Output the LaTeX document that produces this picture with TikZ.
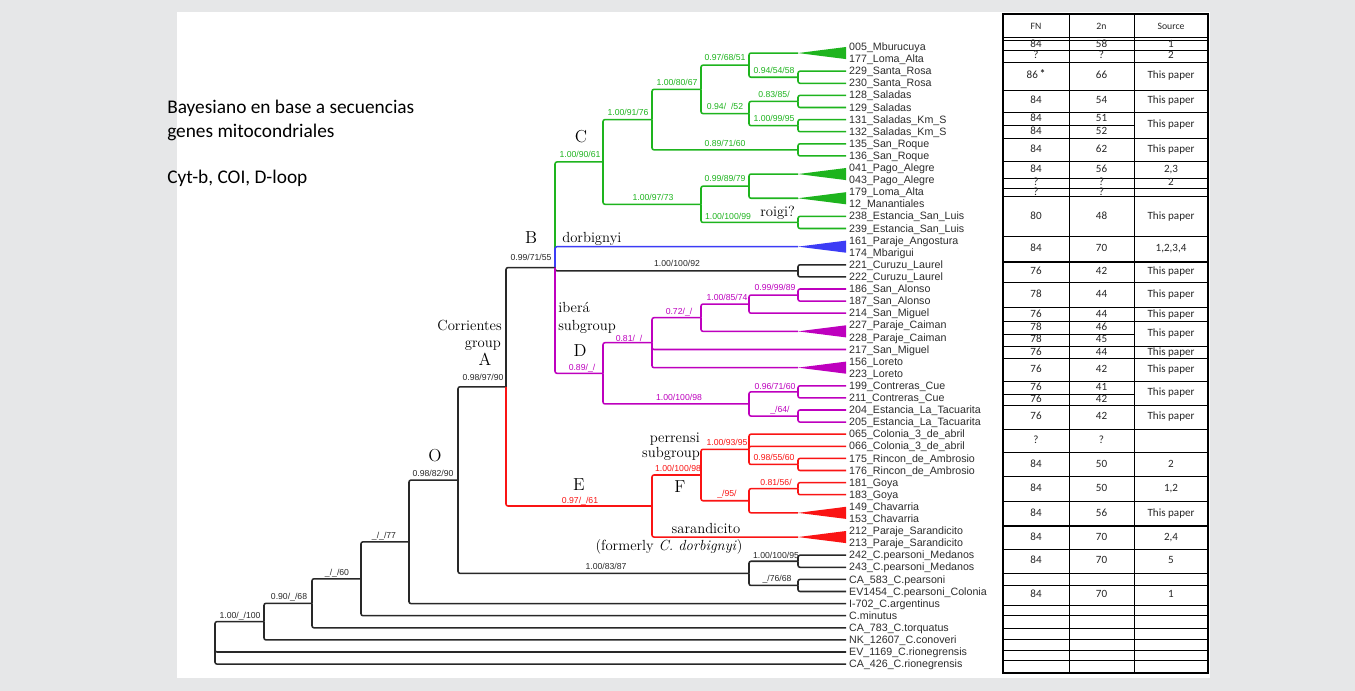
\documentclass[tikz,border=0pt]{standalone}
\usepackage{fontspec}
\usepackage{xcolor}
\usepackage{tikz}
\newfontfamily\arialf{Liberation Sans}
\newfontfamily\calib{Carlito}
\definecolor{bgc}{RGB}{230,231,232}
\definecolor{grn}{RGB}{30,180,30}
\definecolor{blu}{RGB}{60,60,245}
\definecolor{pur}{RGB}{190,0,190}
\definecolor{rd}{RGB}{250,20,20}
\definecolor{dk}{RGB}{40,40,40}
\definecolor{leafc}{RGB}{45,45,45}

\begin{document}
\begin{tikzpicture}
  [x=0.75pt,y=-0.75pt,
   br/.style={line width=1.15pt,rounded corners=1.5pt},
   leaf/.style={anchor=west,inner xsep=2.2pt,inner ysep=0pt,text height=6.4pt,text depth=1pt,font=\arialf\fontsize{8}{9}\selectfont,text=leafc},
   sup/.style={inner sep=0pt,text height=4.7pt,text depth=0pt,font=\arialf\fontsize{6.5}{7}\selectfont},
   clade/.style={inner sep=0pt,font=\fontsize{13}{15}\selectfont},
   grp/.style={inner sep=0pt,font=\fontsize{11}{13}\selectfont},
   cell/.style={inner sep=0pt,text height=5.6pt,text depth=1.7pt,text=black!85,font=\calib\fontsize{8.3}{9}\selectfont},
   hcell/.style={cell,font=\calib\fontsize{7.3}{8}\selectfont},
   title/.style={anchor=base west,inner sep=0pt,font=\calib\fontsize{14.5}{17}\selectfont}]

  \path[use as bounding box,fill=bgc] (0,0) rectangle (1355,691);
  \fill[white] (177,12) rectangle (1210,678);

  \node[title] (ttl1) at (167,113.5) {Bayesiano en base a secuencias};
  \node[title] (ttl2) at (167,137.5) {genes mitocondriales};
  \node[title] (genes) at (167,183.5) {Cyt-b, COI, D-loop};

  % tips
  \foreach \lbl [count=\i] in {005\_Mburucuya,177\_Loma\_Alta,229\_Santa\_Rosa,230\_Santa\_Rosa,
      128\_Saladas,129\_Saladas,131\_Saladas\_Km\_S,132\_Saladas\_Km\_S,135\_San\_Roque,136\_San\_Roque,
      041\_Pago\_Alegre,043\_Pago\_Alegre,179\_Loma\_Alta,12\_Manantiales,238\_Estancia\_San\_Luis,
      239\_Estancia\_San\_Luis,161\_Paraje\_Angostura,174\_Mbarigui,221\_Curuzu\_Laurel,222\_Curuzu\_Laurel,
      186\_San\_Alonso,187\_San\_Alonso,214\_San\_Miguel,227\_Paraje\_Caiman,228\_Paraje\_Caiman,
      217\_San\_Miguel,156\_Loreto,223\_Loreto,199\_Contreras\_Cue,211\_Contreras\_Cue,
      204\_Estancia\_La\_Tacuarita,205\_Estancia\_La\_Tacuarita,065\_Colonia\_3\_de\_abril,066\_Colonia\_3\_de\_abril,
      175\_Rincon\_de\_Ambrosio,176\_Rincon\_de\_Ambrosio,181\_Goya,183\_Goya,149\_Chavarria,153\_Chavarria,
      212\_Paraje\_Sarandicito,213\_Paraje\_Sarandicito,242\_C.pearsoni\_Medanos,243\_C.pearsoni\_Medanos,
      CA\_583\_C.pearsoni,EV1454\_C.pearsoni\_Colonia,I-702\_C.argentinus,C.minutus,CA\_783\_C.torquatus,
      NK\_12607\_C.conoveri,EV\_1169\_C.rionegrensis,CA\_426\_C.rionegrensis}
    \node[leaf] (l\i) at (846,{47+(\i-1)*12.1}) {\lbl};

  % internal nodes
  \coordinate (tMbu) at (798,53.05);
  \coordinate (nSRosa) at (798,77.25);
  \coordinate (n097) at (749,65.15);
  \coordinate (nSal) at (798,101.45);
  \coordinate (nSalKm) at (798,125.65);
  \coordinate (n094) at (749,113.55);
  \coordinate (n100a) at (701,89.35);
  \coordinate (nSRoq) at (798,149.85);
  \coordinate (n100b) at (652,119.6);
  \coordinate (tPago) at (798,174.05);
  \coordinate (tLoma) at (798,198.25);
  \coordinate (n099) at (749,186.15);
  \coordinate (nSLuis) at (798,222.45);
  \coordinate (n100c) at (701,204.3);
  \coordinate (C) at (603,161.95);
  \coordinate (tDorb) at (798,246.65);
  \coordinate (nCuru) at (798,270.85);
  \coordinate (nSAl) at (798,295.05);
  \coordinate (n100d) at (749,304.1);
  \coordinate (tCaim) at (798,331.35);
  \coordinate (n072) at (701,317.7);
  \coordinate (tLore) at (798,367.65);
  \coordinate (n081) at (652,342.7);
  \coordinate (nContr) at (798,391.85);
  \coordinate (nTacu) at (798,416.05);
  \coordinate (n100e) at (749,403.95);
  \coordinate (D) at (603,373.3);
  \coordinate (B) at (555,267.6);
  \coordinate (nRinc) at (798,464.45);
  \coordinate (n100f) at (749,449.3);
  \coordinate (nGoya) at (798,488.65);
  \coordinate (tChav) at (798,512.85);
  \coordinate (n95) at (749,500.75);
  \coordinate (F) at (701,475);
  \coordinate (tSara) at (798,537.05);
  \coordinate (E) at (652,506);
  \coordinate (A) at (506,386.8);
  \coordinate (nMed) at (798,561.25);
  \coordinate (nCApe) at (798,585.45);
  \coordinate (nPears) at (749,573.35);
  \coordinate (O) at (458,480.1);
  \coordinate (n77) at (409,541.85);
  \coordinate (n60) at (361,578.8);
  \coordinate (n68) at (312,603.3);
  \coordinate (n100g) at (264,621.6);
  \coordinate (root) at (215,642.85);

  % branches
  \foreach \a/\b in {B/C,C/n100b,C/n100c,n100b/n100a,n100b/nSRoq,n100a/n097,n100a/n094,n097/tMbu,
      n097/nSRosa,nSRosa/l3.west,nSRosa/l4.west,n094/nSal,n094/nSalKm,nSal/l5.west,nSal/l6.west,
      nSalKm/l7.west,nSalKm/l8.west,nSRoq/l9.west,nSRoq/l10.west,n100c/n099,n100c/nSLuis,
      n099/tPago,n099/tLoma,nSLuis/l15.west,nSLuis/l16.west}
    \draw[br,grn] (\a) |- (\b);
  \draw[br,blu] (B) |- (tDorb);
  \foreach \a/\b in {A/B,B/nCuru,nCuru/l19.west,nCuru/l20.west,O/A,O/nPears,nPears/nMed,nPears/nCApe,
      nMed/l43.west,nMed/l44.west,nCApe/l45.west,nCApe/l46.west,n77/O,n77/l47.west,n60/n77,
      n60/l48.west,n68/n60,n68/l49.west,n100g/n68,n100g/l50.west,root/n100g,root/l51.west,root/l52.west}
    \draw[br,dk] (\a) |- (\b);
  \foreach \a/\b in {B/D,D/n081,D/n100e,n081/n072,n081/l26.west,n081/tLore,n072/n100d,n072/tCaim,
      n100d/nSAl,n100d/l23.west,nSAl/l21.west,nSAl/l22.west,n100e/nContr,n100e/nTacu,
      nContr/l29.west,nContr/l30.west,nTacu/l31.west,nTacu/l32.west}
    \draw[br,pur] (\a) |- (\b);
  \foreach \a/\b in {A/E,E/F,E/tSara,F/n100f,F/n95,n100f/l33.west,n100f/l34.west,n100f/nRinc,
      nRinc/l35.west,nRinc/l36.west,n95/nGoya,n95/tChav,nGoya/l37.west,nGoya/l38.west}
    \draw[br,rd] (\a) |- (\b);

  % collapsed clades
  \foreach \t/\u/\v/\c in {tMbu/1/2/grn,tPago/11/12/grn,tLoma/13/14/grn,tDorb/17/18/blu,
      tCaim/24/25/pur,tLore/27/28/pur,tChav/39/40/rd,tSara/41/42/rd}
    \fill[\c] (\t) -- (l\u.west) -- (l\v.west) -- cycle;

  % support values
  \foreach \px/\py/\txt [count=\i] in {580/154/{1.00/90/61},628/112/{1.00/91/76},677/82/{1.00/80/67},
      725/57/{0.97/68/51},774/70/{0.94/54/58},725/106/{0.94/\ \ /52},774/94/{0.83/85/},
      774/118/{1.00/99/95},725/143/{0.89/71/60},653/197/{1.00/97/73},725/178/{0.99/89/79},
      728/216/{1.00/100/99}}
    \node[sup,text=grn] (sg\i) at (\px,\py) {\txt};
  \foreach \px/\py/\txt [count=\i] in {531/257/{0.99/71/55},677/263/{1.00/100/92},483/377/{0.98/97/90},
      433/473/{0.98/82/90},606/566/{1.00/83/87},776/555/{1.00/100/95},777/578/{\_/76/68},
      384/535/{\_/\_/77},337/572/{\_/\_/60},289/596/{0.90/\_/68},240/615/{1.00/\_/100}}
    \node[sup,text=dk] (sk\i) at (\px,\py) {\txt};
  \foreach \px/\py/\txt [count=\i] in {582/367/{0.89/\_/},629/338/{0.81/\_/},679/311/{0.72/\_/},
      727/297/{1.00/85/74},775/287/{0.99/99/89},679/397/{1.00/100/98},775/386/{0.96/71/60},
      780/409/{\_/64/}}
    \node[sup,text=pur] (sp\i) at (\px,\py) {\txt};
  \foreach \px/\py/\txt [count=\i] in {580/500/{0.97/\_/61},678/468/{1.00/100/98},727/442/{1.00/93/95},
      774/457/{0.98/55/60},776/482/{0.81/56/},727/493/{\_/95/}}
    \node[sup,text=rd] (sr\i) at (\px,\py) {\txt};

  % clade names
  \node[clade] (labC) at (581,137) {C};
  \node[clade] (labB) at (531,238) {B};
  \node[clade] (labD) at (580,351) {D};
  \node[clade] (labA) at (485,359) {A};
  \node[clade] (labO) at (435,456) {O};
  \node[clade] (labE) at (579,485) {E};
  \node[clade] (labF) at (680,487) {F};
  \node[grp,anchor=base west] (dorb) at (562,243) {dorbignyi};
  \node[grp,anchor=base west] (roigi) at (760,216.5) {roigi?};
  \node[grp,anchor=base west] (ibera) at (558,312.5) {iberá};
  \node[grp,anchor=base west] (ibsub) at (558,330) {subgroup};
  \node[grp,anchor=base east] (corr) at (502,330) {Corrientes};
  \node[grp,anchor=base east] (corrg) at (501,348) {group};
  \node[grp,anchor=base east] (perr) at (700,442) {perrensi};
  \node[grp,anchor=base east] (persub) at (700,457) {subgroup};
  \node[grp,anchor=base] (sara) at (706,533.5) {sarandicito};
  \node[grp,anchor=base] (form) at (669,550) {(formerly \textit{C. dorbignyi})};

  % karyotype table
  \draw[line width=1.3pt] (1003,14) rectangle (1208,672.7);
  \draw[line width=0.6pt] (1069,14) -- (1069,672.7) (1134,14) -- (1134,672.7);
  \foreach \yy in {37.8,40.2,50.3,62.5,90,112.7,138,161.7,178.3,188.3,196.7,282.7,307.3,321.7,346.7,
      358.3,381.7,405,429,452.7,476.7,501.7,573.3,585,605,615.7,628.3,639.3,650,660.7}
    \draw[line width=0.6pt] (1003,\yy) -- (1208,\yy);
  \foreach \yy in {236.7,262,526,549.3}
    \draw[line width=1.1pt] (1003,\yy) -- (1208,\yy);
  \foreach \yy in {125,334,394}
    \draw[line width=0.6pt] (1003,\yy) -- (1134,\yy);

  \node[hcell] (hFN) at (1036,26.5) {FN};
  \node[hcell] (h2n) at (1101.5,26.5) {2n};
  \node[hcell] (hSrc) at (1171,26.5) {Source};
  \foreach \yy/\fn/\tn [count=\i] in {44.7/84/58,56.4/?/?,76.2/{86\,\raisebox{1pt}{\bfseries *}}/66,101.3/84/54,
      118.8/84/51,131.5/84/52,149.8/84/62,170/84/56,183.3/?/?,192.5/?/?,216.7/80/48,249.3/84/70,
      272.3/76/42,295/78/44,314.5/76/44,327.8/78/46,340.3/78/45,352.5/76/44,370/76/42,387.8/76/41,
      399.5/76/42,417/76/42,440.8/?/?,464.7/84/50,489.2/84/50,513.8/84/56,537.7/84/70,561.3/84/70,
      595/84/70}
    {\node[cell] (fn\i) at (1036,\yy) {\fn};
     \node[cell] (tn\i) at (1101.5,\yy) {\tn};}
  \foreach \yy/\src [count=\i] in {44.7/1,56.4/2,76.2/This paper,101.3/This paper,125.3/This paper,
      149.8/This paper,170/{2,3},183.3/2,216.7/This paper,249.3/{1,2,3,4},272.3/This paper,
      295/This paper,314.5/This paper,334.2/This paper,352.5/This paper,370/This paper,
      393.3/This paper,417/This paper,464.7/2,489.2/{1,2},513.8/This paper,537.7/{2,4},561.3/5,595/1}
    \node[cell] (src\i) at (1171,\yy) {\src};
\end{tikzpicture}
\end{document}
